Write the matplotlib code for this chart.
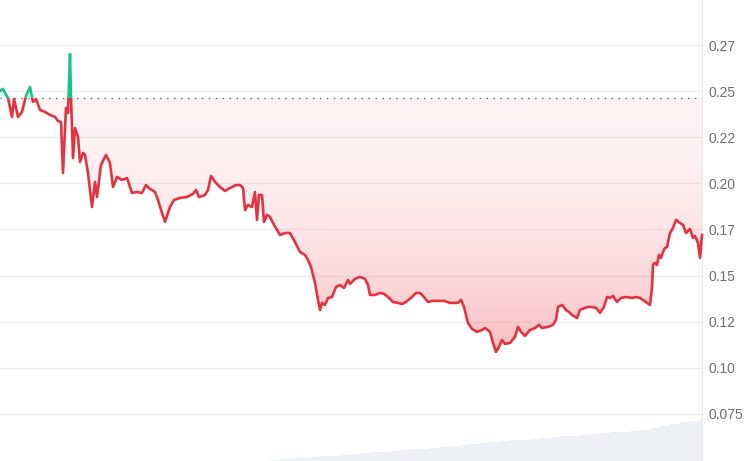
import matplotlib
matplotlib.use("Agg")
import matplotlib.pyplot as plt
import numpy as np
from matplotlib.path import Path

# price series (time in hours, price in USD)
hours = [0, 3, 5, 8, 12, 14, 18, 22, 26, 30, 33, 36, 40, 45, 50, 55, 58, 61, 63, 66,
         68, 70, 71, 73, 75, 78, 80, 83, 85, 88, 92, 95, 97, 101, 106, 110, 113, 117, 122, 127,
         132, 137, 142, 146, 150, 155, 158, 161, 165, 170, 174, 180, 187, 193, 196, 199, 205, 208, 211, 215,
         220, 225, 230, 236, 240, 243, 245, 248, 252, 255, 257, 259, 262, 264, 267, 270, 273, 280, 285, 290,
         295, 300, 305, 308, 311, 315, 318, 320, 322, 325, 328, 332, 336, 340, 344, 348, 350, 355, 360, 365,
         368, 370, 375, 380, 384, 388, 393, 398, 402, 406, 412, 416, 420, 424, 428, 433, 440, 444, 450, 458,
         461, 464, 468, 472, 477, 482, 485, 490, 493, 496, 499, 502, 505, 510, 515, 518, 521, 525, 530, 535,
         539, 542, 548, 553, 556, 558, 562, 566, 570, 572, 577, 580, 585, 588, 592, 596, 600, 604, 607, 610,
         613, 617, 621, 626, 632, 636, 640, 643, 647, 650, 652, 653, 655, 657, 659, 661, 663, 665, 667, 670,
         673, 676, 680, 683, 686, 690, 693, 695, 698, 700, 702]
prices = [0.2501, 0.2512, 0.2490, 0.2463, 0.2360, 0.2457, 0.2360, 0.2387, 0.2474, 0.2522,
          0.2441, 0.2457, 0.2398, 0.2387, 0.2371, 0.2360, 0.2338, 0.2333, 0.2056, 0.2409,
          0.2382, 0.2701, 0.2463, 0.2138, 0.2300, 0.2251, 0.2116, 0.2165, 0.2154, 0.2056,
          0.1872, 0.2008, 0.1926, 0.2100, 0.2154, 0.2110, 0.1980, 0.2035, 0.2018, 0.2029,
          0.1948, 0.1953, 0.1948, 0.1991, 0.1970, 0.1953, 0.1910, 0.1856, 0.1791, 0.1872,
          0.1910, 0.1921, 0.1926, 0.1943, 0.1964, 0.1926, 0.1937, 0.1964, 0.2040, 0.2008,
          0.1980, 0.1959, 0.1975, 0.1991, 0.1991, 0.1975, 0.1856, 0.1883, 0.1872, 0.1953,
          0.1802, 0.1937, 0.1937, 0.1791, 0.1829, 0.1818, 0.1785, 0.1720, 0.1731, 0.1731,
          0.1682, 0.1628, 0.1612, 0.1585, 0.1547, 0.1460, 0.1368, 0.1314, 0.1352, 0.1341,
          0.1379, 0.1384, 0.1438, 0.1449, 0.1433, 0.1476, 0.1455, 0.1482, 0.1493, 0.1482,
          0.1449, 0.1395, 0.1395, 0.1406, 0.1401, 0.1384, 0.1357, 0.1352, 0.1346, 0.1357,
          0.1384, 0.1406, 0.1406, 0.1384, 0.1357, 0.1363, 0.1363, 0.1363, 0.1352, 0.1352,
          0.1368, 0.1330, 0.1243, 0.1211, 0.1195, 0.1205, 0.1216, 0.1195, 0.1135, 0.1086,
          0.1113, 0.1151, 0.1130, 0.1135, 0.1168, 0.1222, 0.1195, 0.1173, 0.1205, 0.1216,
          0.1233, 0.1216, 0.1222, 0.1233, 0.1260, 0.1330, 0.1341, 0.1314, 0.1298, 0.1287,
          0.1270, 0.1314, 0.1325, 0.1330, 0.1330, 0.1325, 0.1298, 0.1330, 0.1384, 0.1379,
          0.1390, 0.1357, 0.1379, 0.1384, 0.1379, 0.1384, 0.1379, 0.1368, 0.1352, 0.1341,
          0.1433, 0.1558, 0.1569, 0.1558, 0.1612, 0.1596, 0.1628, 0.1650, 0.1655, 0.1731,
          0.1758, 0.1802, 0.1785, 0.1775, 0.1731, 0.1753, 0.1704, 0.1715, 0.1677, 0.1596,
          0.1720]
baseline = 0.2463

# trading volume (millions), one bar per 10 hours
vol_hours = [270, 280, 290, 300, 310, 320, 330, 340, 350, 360, 370, 380, 390, 400, 410,
             420, 430, 440, 450, 460, 470, 480, 490, 500, 510, 520, 530, 540, 550, 560,
             570, 580, 590, 600, 610, 620, 630, 640, 650, 660, 670, 680, 690, 700]
volume = [0.3, 0.6, 0.7, 0.9, 1.2, 1.4, 1.5, 1.7, 2.0, 2.3, 2.6, 2.6, 2.9, 3.1, 3.3,
          3.4, 3.7, 4.0, 4.2, 4.5, 4.8, 5.0, 5.3, 5.6, 5.9, 5.9, 6.2, 6.4, 6.7, 7.0,
          7.0, 7.3, 7.6, 7.8, 8.1, 8.1, 8.4, 8.7, 9.2, 9.8, 10.4, 10.9, 11.2, 11.8]

tick_vals = [0.075, 0.100, 0.125, 0.150, 0.175, 0.200, 0.225, 0.250, 0.275]
tick_text = ['0.075', '0.10', '0.12', '0.15', '0.17', '0.20', '0.22', '0.25', '0.27']

red = '#e5323f'
green = '#16c784'

hours = np.array(hours)
prices = np.array(prices)

fig = plt.figure(figsize=(7.54, 4.61), dpi=100)
ax = fig.add_axes([0, 0, 702 / 754, 1])
ax.set_xlim(0, 702)
ax.set_ylim(0.0495, 0.2994)

# volume bars underneath
axv = ax.twinx()
axv.set_ylim(0, 129)
axv.bar(vol_hours, volume, width=10, align='edge', color='#edf0f4', linewidth=0, zorder=0)
axv.set_yticks([])
for s in axv.spines.values():
    s.set_visible(False)
ax.set_zorder(axv.get_zorder() + 1)
ax.patch.set_visible(False)

# grid
for v in tick_vals:
    ax.axhline(v, color='#efefef', lw=1, zorder=1)

# gradient fill between line and baseline
lo = prices.min()
fb = ax.fill_between(hours, prices, baseline, where=prices <= baseline,
                     interpolate=True, facecolor='none', edgecolor='none')
clip = Path.make_compound_path(*fb.get_paths())
s = np.linspace(1, 0, 256)
alpha = 0.06 + 0.27 * s ** 2
grad = np.zeros((256, 1, 4))
grad[..., 0], grad[..., 1], grad[..., 2] = 0.92, 0.22, 0.26
grad[:, 0, 3] = alpha
im = ax.imshow(grad, extent=[0, 702, lo, baseline], origin='lower',
               aspect='auto', zorder=2, interpolation='bilinear')
im.set_clip_path(clip, ax.transData)

fg = ax.fill_between(hours, prices, baseline, where=prices >= baseline,
                     interpolate=True, color=green, alpha=0.08, lw=0, zorder=2)

# baseline
ax.axhline(baseline, color='#666666', lw=1, ls=(0, (1, 4)), zorder=3)

# price line, red below baseline and green above
lr, = ax.plot(hours, prices, color=red, lw=1.9, zorder=4, solid_joinstyle='round')
lg, = ax.plot(hours, prices, color=green, lw=1.9, zorder=4, solid_joinstyle='round')
below = plt.Rectangle((-10, 0), 730, baseline, transform=ax.transData)
above = plt.Rectangle((-10, baseline), 730, 1, transform=ax.transData)
lr.set_clip_path(below)
lg.set_clip_path(above)

# axis styling
for name in ['top', 'left', 'bottom']:
    ax.spines[name].set_visible(False)
ax.spines['right'].set_color('#eaeaea')
ax.set_xticks([])
ax.yaxis.tick_right()
ax.set_yticks(tick_vals)
ax.set_yticklabels(tick_text, fontfamily='Liberation Sans', fontsize=10, color='#6a6f78')
ax.tick_params(axis='y', length=0, pad=5)

fig.savefig('out.png', dpi=100)
